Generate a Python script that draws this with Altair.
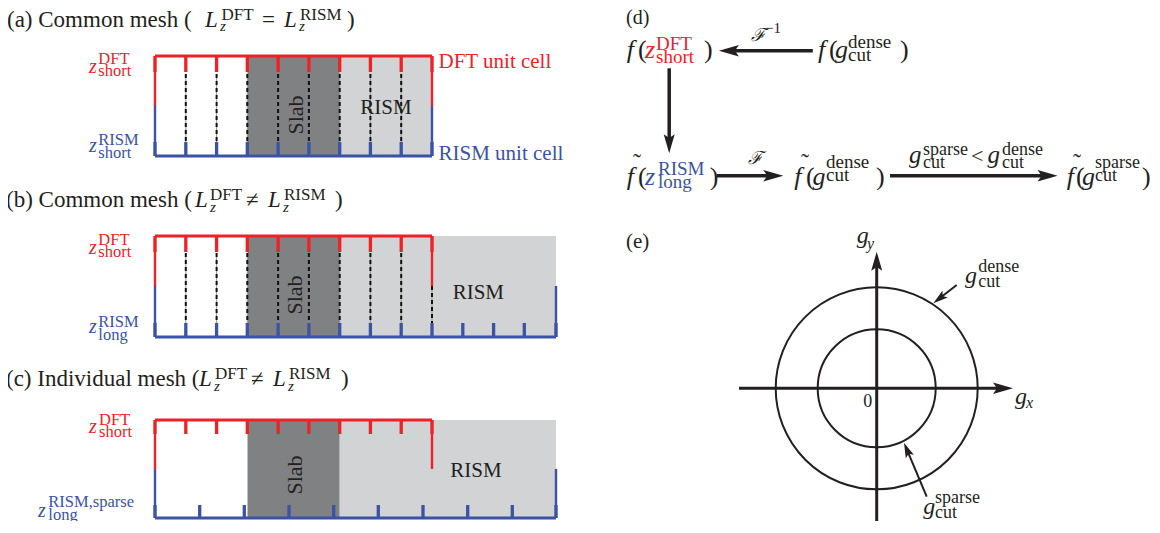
import math
import altair as alt
import pandas as pd

RED = "#ed2226"
BLUE = "#3a53a4"
INK = "#231f20"
SLAB_GRAY = "#808183"
RISM_GRAY = "#d1d3d4"
FONT = "Liberation Serif"

# ---------------- panels (a)-(c): mesh geometry ----------------
cell_left = [155, 155, 155]
dft_right = [432, 432, 432]
rism_right = [432, 556, 556]
cell_top = [56, 236, 420]
cell_mid = [106, 286, 469]
cell_bottom = [156, 337, 518]
slab_left = [247.5, 247.5, 247.5]
slab_right = [339.7, 339.7, 339.7]
rism_fill_right = [432, 556, 556]
dft_ticks = [155, 185.8, 216.6, 247.3, 278.1, 308.9, 339.7, 370.4, 401.2, 432]
rism_ticks = [
    dft_ticks,
    dft_ticks + [462.8, 493.6, 524.3, 556],
    [155, 199.7, 244.3, 289, 333.7, 378.3, 423, 467.7, 512.3, 556],
]
dft_tick_len = [16, 16, 14]
rism_tick_len = [14, 14, 13]
# dashed mesh lines shared by DFT and RISM grids
dash_x = [dft_ticks[1:9], dft_ticks[1:9] + [432], []]
dash_y_top = [[74] * 8, [253] * 8 + [286], []]
dash_y_bottom = [142, 323, 0]

# ---------------- text pieces ----------------
# (text, x_left, baseline, size, color)
upright_texts = [
    ("(a) Common mesh (", 7, 26.5, 23, INK), ("DFT", 221.5, 20, 17, INK), ("=", 262, 26.5, 23, INK),
    ("RISM", 300, 20, 17, INK), (")", 347, 26.5, 23, INK),
    ("(b) Common mesh (", 6, 207, 23, INK), ("DFT", 210, 199.5, 17, INK), ("\u2260", 246, 207, 23, INK),
    ("RISM", 284, 199.5, 17, INK), (")", 335, 207, 23, INK),
    ("(c) Individual mesh (", 6, 386, 23, INK), ("DFT", 215, 378.5, 17, INK), ("\u2260", 251, 386, 23, INK),
    ("RISM", 289, 378.5, 17, INK), (")", 341, 386, 23, INK),
    ("DFT unit cell", 438.5, 68, 21, RED), ("RISM unit cell", 438.5, 160, 21, BLUE),
    ("DFT", 98.3, 64, 16.5, RED), ("short", 98.3, 76, 16.5, RED),
    ("RISM", 98.3, 145, 16.5, BLUE), ("short", 98.3, 158.3, 16.5, BLUE),
    ("DFT", 98.3, 245, 16.5, RED), ("short", 98.3, 257, 16.5, RED),
    ("RISM", 98.3, 326.5, 16.5, BLUE), ("long", 98.3, 339.5, 16.5, BLUE),
    ("DFT", 99, 425, 16.5, RED), ("short", 99, 437.3, 16.5, RED),
    ("RISM,sparse", 48.3, 507, 16.5, BLUE), ("long", 48.3, 519.5, 16.5, BLUE),
    # panel (d)
    ("(d)", 626, 24, 20, INK),
    ("(", 638, 58, 26, INK), ("DFT", 656, 49.5, 19, RED), ("short", 656, 63, 19, RED), (")", 704, 58, 26, INK),
    ("\u22121", 765, 33, 15, INK),
    ("(", 829, 58, 26, INK), ("dense", 848, 48, 19, INK), ("cut", 848, 61, 19, INK), (")", 900, 58, 26, INK),
    ("(", 638, 185, 26, INK), ("RISM", 658, 175, 19, BLUE), ("long", 658, 187.5, 19, BLUE), (")", 709.7, 185, 26, INK),
    ("(", 806, 185, 26, INK), ("dense", 826, 168, 19, INK), ("cut", 826, 181, 19, INK), (")", 876, 185, 26, INK),
    ("sparse", 923, 155, 18, INK), ("cut", 923, 167.5, 18, INK), ("<", 971, 163, 22, INK),
    ("dense", 1002, 155, 18, INK), ("cut", 1002, 167.5, 18, INK),
    ("(", 1076, 185, 26, INK), ("sparse", 1095, 168, 18, INK), ("cut", 1095, 181, 18, INK), (")", 1142, 185, 26, INK),
    ("\u02dc", 633, 170, 24, INK), ("\u02dc", 801, 170, 24, INK), ("\u02dc", 1073, 170, 24, INK),
    # panel (e)
    ("(e)", 626, 248, 21, INK), ("0", 863.3, 406.7, 18, INK),
    ("dense", 978.3, 271.7, 18, INK), ("cut", 978.3, 286.7, 18, INK),
    ("sparse", 935, 502.5, 18, INK), ("cut", 935, 518, 18, INK),
]
italic_texts = [
    ("L", 205, 26.5, 23, INK), ("z", 220, 31, 15, INK), ("L", 284, 26.5, 23, INK), ("z", 299, 31, 15, INK),
    ("L", 195, 207, 23, INK), ("z", 210, 212, 15, INK), ("L", 268, 207, 23, INK), ("z", 283, 212, 15, INK),
    ("L", 199, 386, 23, INK), ("z", 214, 391, 15, INK), ("L", 273, 386, 23, INK), ("z", 288, 391, 15, INK),
    ("z", 89, 73.3, 20, RED), ("z", 89, 151.7, 20, BLUE),
    ("z", 89, 254.3, 20, RED), ("z", 89, 333, 20, BLUE),
    ("z", 89, 433.3, 20, RED), ("z", 38, 516.5, 20, BLUE),
    ("f", 626.8, 58, 26, INK), ("z", 645, 58, 26, RED), ("\u2131", 751, 41, 18, INK),
    ("f", 818, 58, 26, INK), ("g", 835, 58, 26, INK),
    ("f", 626.8, 185, 26, INK), ("z", 645, 185, 26, BLUE), ("\u2131", 748, 164, 18, INK),
    ("f", 794.3, 185, 26, INK), ("g", 812.5, 185, 26, INK),
    ("g", 909, 163, 25, INK), ("g", 987.6, 163, 25, INK),
    ("f", 1066.8, 185, 26, INK), ("g", 1082, 185, 26, INK),
    ("g", 856.7, 243, 24, INK), ("y", 867, 249, 16, INK),
    ("g", 1015, 404, 24, INK), ("x", 1026, 408, 16, INK),
    ("g", 965, 283.3, 24, INK), ("g", 923.3, 514, 24, INK),
]
# rotated / centred labels inside the cells: (text, x, baseline, size)
slab_labels = [("Slab", 303, 115, 22), ("Slab", 302, 295, 22), ("Slab", 302, 475, 22)]
rism_labels = [("RISM", 386, 114.3, 21), ("RISM", 478.3, 299, 21), ("RISM", 476, 477.3, 21)]

# ---------------- panels (d)/(e): arrows and circles ----------------
# (start_x, start_y, tip_x, tip_y, head_length, shaft_width)
arrows = [
    (812.8, 50.7, 718.9, 50.7, 20, 3.5),
    (669.2, 68.3, 669.2, 153.3, 19, 3.5),
    (717.0, 175.7, 783.3, 175.7, 20, 3.5),
    (890.0, 175.7, 1057.6, 175.7, 20, 3.5),
    (739.0, 388.3, 1013.0, 388.3, 20, 3.0),
    (876.7, 525.0, 876.7, 251.7, 19, 3.0),
    (956.7, 285.0, 933.3, 303.3, 15, 2.0),
    (926.7, 496.7, 904.0, 442.7, 15, 2.0),
]
circle_cx = [876.7, 876.7]
circle_cy = [388.3, 388.3]
circle_r = [101, 59]

# ---------------- build tables ----------------
rects, segs, dashes = [], [], []
for i in range(3):
    rects.append(dict(x=slab_left[i], x2=slab_right[i], y=cell_top[i], y2=cell_bottom[i], c=SLAB_GRAY))
    rects.append(dict(x=slab_right[i], x2=rism_fill_right[i], y=cell_top[i], y2=cell_bottom[i], c=RISM_GRAY))
    L, T, M, B = cell_left[i], cell_top[i], cell_mid[i], cell_bottom[i]
    segs += [
        dict(x=L, y=T, x2=dft_right[i], y2=T, c=RED, w=3),
        dict(x=L, y=T, x2=L, y2=M, c=RED, w=2.4),
        dict(x=dft_right[i], y=T, x2=dft_right[i], y2=M, c=RED, w=2.4),
        dict(x=L, y=M, x2=L, y2=B, c=BLUE, w=2.4),
        dict(x=rism_right[i], y=M, x2=rism_right[i], y2=B, c=BLUE, w=2.4),
        dict(x=L, y=B, x2=rism_right[i], y2=B, c=BLUE, w=3),
    ]
    for tx in dft_ticks:
        segs.append(dict(x=tx, y=T, x2=tx, y2=T + dft_tick_len[i], c=RED, w=3.3))
    for tx in rism_ticks[i]:
        segs.append(dict(x=tx, y=B - rism_tick_len[i], x2=tx, y2=B, c=BLUE, w=3.3))
    for dx, dy in zip(dash_x[i], dash_y_top[i]):
        dashes.append(dict(x=dx, y=dy, x2=dx, y2=dash_y_bottom[i]))

ARROW_SHAPE = "M1,0L-1,-0.58L-0.6,0L-1,0.58Z"
heads = []
for sx, sy, tx, ty, hl, sw in arrows:
    ang = math.atan2(ty - sy, tx - sx)
    ux, uy = math.cos(ang), math.sin(ang)
    heads.append(dict(x=tx - ux * hl / 2, y=ty - uy * hl / 2, s=hl * hl, a=math.degrees(ang) % 360))
    segs.append(dict(x=sx, y=sy, x2=tx - ux * hl * 0.7, y2=ty - uy * hl * 0.7, c=INK, w=sw))

circles = pd.DataFrame(dict(x=circle_cx, y=circle_cy, s=[(2 * r) ** 2 for r in circle_r]))

def tdf(items):
    return pd.DataFrame(items, columns=["t", "x", "y", "size", "c"])

# 1:1 pixel mapping: page offset of 8 px, drawing area 1144 x 513
xs = alt.Scale(domain=[8, 1152], range=[0, 1144], nice=False, zero=False)
ys = alt.Scale(domain=[8, 521], range=[0, 513], nice=False, zero=False)
X = alt.X("x:Q", scale=xs, axis=None)
Y = alt.Y("y:Q", scale=ys, axis=None)

rect_layer = alt.Chart(pd.DataFrame(rects)).mark_rect().encode(
    x=X, x2="x2:Q", y=Y, y2="y2:Q", color=alt.Color("c:N", scale=None))
dash_bg = alt.Chart(pd.DataFrame(dashes)).mark_rule(color="#8a8a8a", strokeWidth=0.9).encode(
    x=X, y=Y, x2="x2:Q", y2="y2:Q")
dash_layer = alt.Chart(pd.DataFrame(dashes)).mark_rule(color="#111111", strokeWidth=2, strokeDash=[4, 3]).encode(
    x=X, y=Y, x2="x2:Q", y2="y2:Q")
seg_layer = alt.Chart(pd.DataFrame(segs)).mark_rule().encode(
    x=X, y=Y, x2="x2:Q", y2="y2:Q", color=alt.Color("c:N", scale=None),
    strokeWidth=alt.StrokeWidth("w:Q", scale=None))
circle_layer = alt.Chart(circles).mark_point(shape="circle", filled=False, color=INK, strokeWidth=2, opacity=1).encode(
    x=X, y=Y, size=alt.Size("s:Q", scale=None))
head_layer = alt.Chart(pd.DataFrame(heads)).mark_point(shape=ARROW_SHAPE, filled=True, color=INK, opacity=1, strokeWidth=0).encode(
    x=X, y=Y, size=alt.Size("s:Q", scale=None), angle=alt.Angle("a:Q", scale=None))

def text_layer(items, **kw):
    return alt.Chart(tdf(items)).mark_text(font=FONT, baseline="alphabetic", **kw).encode(
        x=X, y=Y, text="t:N", size=alt.Size("size:Q", scale=None), color=alt.Color("c:N", scale=None))

up_layer = text_layer(upright_texts, align="left")
it_layer = text_layer(italic_texts, align="left", fontStyle="italic")
slab_layer = text_layer([(t, x, y, s, INK) for t, x, y, s in slab_labels], align="center", angle=270)
rism_layer = text_layer([(t, x, y, s, INK) for t, x, y, s in rism_labels], align="center")

chart = alt.layer(
    rect_layer, dash_bg, dash_layer, seg_layer, circle_layer, head_layer,
    up_layer, it_layer, slab_layer, rism_layer,
).properties(
    width=1144, height=513, padding=0, autosize=alt.AutoSizeParams(type="none"),
).configure_view(stroke=None)

chart.save("out.html", embed_options={"renderer": "svg", "actions": False})
